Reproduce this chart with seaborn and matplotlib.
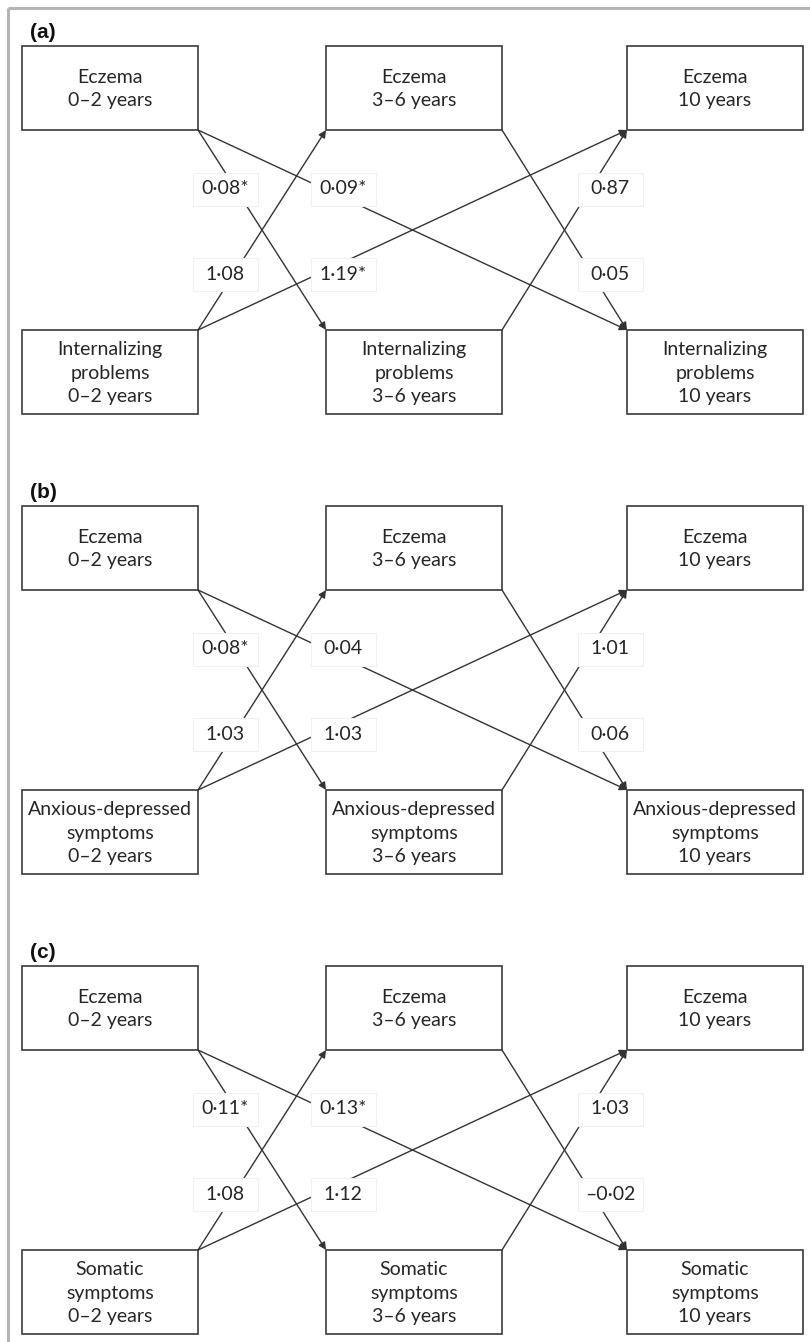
import matplotlib.pyplot as plt
import matplotlib.patches as mpatches
import seaborn as sns

# ----------- DONNÉES ------------
panel_tags = ['(a)', '(b)', '(c)']
outcomes = ['Internalizing\nproblems', 'Anxious-depressed\nsymptoms', 'Somatic\nsymptoms']
ages = ['0–2 years', '3–6 years', '10 years']

# coefficients des chemins croisés (un par panneau)
ecz02_to_psy36 = ['0·08*', '0·08*', '0·11*']
ecz02_to_psy10 = ['0·09*', '0·04', '0·13*']
psy36_to_ecz10 = ['0·87', '1·01', '1·03']
psy02_to_ecz36 = ['1·08', '1·03', '1·08']
psy02_to_ecz10 = ['1·19*', '1·03', '1·12']
ecz36_to_psy10 = ['0·05', '0·06', '–0·02']

# ----------- MISE EN PAGE ------------
W, H = 810, 1342
panel_top = [46, 506, 966]
col_x = [22, 326, 627]
box_w, box_h = 176, 84
row_gap = 284
lab_x = [225, 343, 610]
lab_dy = [143, 228]
lab_w, lab_h = 65, 33

edge_col = '#333333'
txt_col = '#262626'

sns.set_theme(style='white')
plt.rcParams['font.family'] = ['Lato', 'DejaVu Sans']

fig = plt.figure(figsize=(W / 100, H / 100), dpi=100)
ax = fig.add_axes([0, 0, 1, 1])
ax.set_xlim(0, W)
ax.set_ylim(H, 0)
ax.axis('off')

# cadre gris (haut + gauche)
ax.plot([8, W], [8, 8], color='#b4b4b4', lw=2.2, solid_capstyle='butt')
ax.plot([8, 8], [8, H], color='#b4b4b4', lw=2.2, solid_capstyle='butt')


def corner(top, row, col, which):
    x0 = col_x[col]
    y0 = top + row * row_gap
    xs = {'l': x0, 'r': x0 + box_w}
    ys = {'t': y0, 'b': y0 + box_h}
    return xs[which[1]], ys[which[0]]


def arrow(p_from, p_to):
    ax.annotate('', xy=p_to, xytext=p_from, zorder=2,
                arrowprops=dict(arrowstyle='-|>', color=edge_col, lw=1.0,
                                mutation_scale=11, shrinkA=0, shrinkB=0))


def coef(x, y, s):
    ax.add_patch(mpatches.Rectangle((x - lab_w / 2, y - lab_h / 2), lab_w, lab_h,
                                    facecolor='white', edgecolor='#f0f0f0',
                                    lw=0.8, zorder=4))
    ax.text(x, y, s, ha='center', va='center', fontsize=14,
            color=txt_col, zorder=5)


for i, top in enumerate(panel_top):
    ax.text(30, top - 14, panel_tags[i], ha='left', va='center',
            fontsize=15, fontweight='bold', family='Liberation Sans',
            color='#111111')

    # boîtes
    for row in range(2):
        for col in range(3):
            x0 = col_x[col]
            y0 = top + row * row_gap
            ax.add_patch(mpatches.Rectangle((x0, y0), box_w, box_h,
                                            facecolor='white', edgecolor='#3a3a3a',
                                            lw=1.2, zorder=3))
            name = 'Eczema' if row == 0 else outcomes[i]
            ax.text(x0 + box_w / 2, y0 + box_h / 2 + 1, name + '\n' + ages[col],
                    ha='center', va='center', fontsize=14, color=txt_col,
                    linespacing=1.45, zorder=5)

    # chemins
    arrow(corner(top, 0, 0, 'br'), corner(top, 1, 1, 'tl'))
    arrow(corner(top, 0, 0, 'br'), corner(top, 1, 2, 'tl'))
    arrow(corner(top, 1, 0, 'tr'), corner(top, 0, 1, 'bl'))
    arrow(corner(top, 1, 0, 'tr'), corner(top, 0, 2, 'bl'))
    arrow(corner(top, 0, 1, 'br'), corner(top, 1, 2, 'tl'))
    arrow(corner(top, 1, 1, 'tr'), corner(top, 0, 2, 'bl'))

    # coefficients
    y1 = top + lab_dy[0]
    y2 = top + lab_dy[1]
    coef(lab_x[0], y1, ecz02_to_psy36[i])
    coef(lab_x[1], y1, ecz02_to_psy10[i])
    coef(lab_x[2], y1, psy36_to_ecz10[i])
    coef(lab_x[0], y2, psy02_to_ecz36[i])
    coef(lab_x[1], y2, psy02_to_ecz10[i])
    coef(lab_x[2], y2, ecz36_to_psy10[i])

fig.savefig('out.png', dpi=100, facecolor='white')
